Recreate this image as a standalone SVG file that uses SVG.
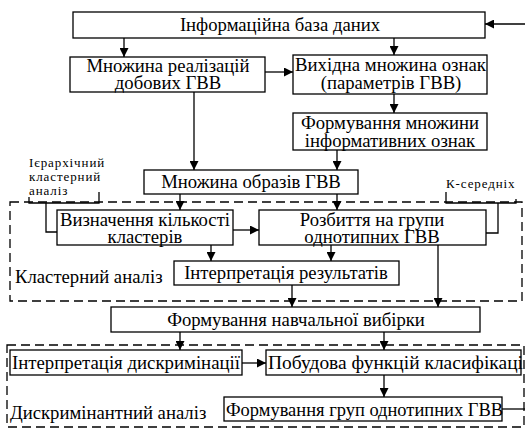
<svg xmlns="http://www.w3.org/2000/svg" width="525" height="429" viewBox="0 0 525 429">
<defs>
<style>
.b{fill:#fff;stroke:#000;stroke-width:1.3}
.d{fill:none;stroke:#000;stroke-width:1.3;stroke-dasharray:9,5}
.c{fill:none;stroke:#000;stroke-width:1.3}
.a{marker-end:url(#ah)}
.t{font-family:'Liberation Serif','Times New Roman',serif;font-size:18.7px;fill:#000}
.m{text-anchor:middle}
.s{font-family:'Liberation Serif','Times New Roman',serif;font-size:13px;letter-spacing:0.9px;fill:#000}
</style>
<marker id="ah" viewBox="0 0 10 10" refX="10" refY="5" markerWidth="9" markerHeight="9" markerUnits="userSpaceOnUse" orient="auto">
<path d="M0,0 L10,5 L0,10 z" fill="#000"/>
</marker>
</defs>
<rect width="525" height="429" fill="#fff"/>
<g id="cluster-area">
<rect class="d" x="10" y="202" width="512" height="99"/>
<text class="t" x="15" y="283">Кластерний аналіз</text>
</g>
<g id="discr-area">
<rect class="d" x="7" y="345" width="517" height="82"/>
<text class="t" x="10" y="419">Дискримінантний аналіз</text>
</g>
<g id="n1"><rect class="b" x="73" y="12" width="412" height="26"/><text class="t m" x="280" y="31">Інформаційна база даних</text></g>
<g id="n2"><rect class="b" x="70" y="57" width="195" height="35"/><text class="t m" x="168" y="72">Множина реалізацій</text><text class="t m" x="168" y="89">добових ГВВ</text></g>
<g id="n3"><rect class="b" x="293" y="55" width="194" height="39"/><text class="t" x="295" y="71" textLength="191" lengthAdjust="spacingAndGlyphs">Вихідна множина ознак</text><text class="t m" x="391" y="89">(параметрів ГВВ)</text></g>
<g id="n4"><rect class="b" x="293" y="113" width="194" height="37"/><text class="t m" x="390" y="129">Формування множини</text><text class="t m" x="390" y="147">інформативних ознак</text></g>
<g id="n5"><rect class="b" x="144" y="170" width="214" height="24"/><text class="t m" x="251" y="188">Множина образів ГВВ</text></g>
<g id="n6"><rect class="b" x="57" y="210" width="176" height="35"/><text class="t m" x="145" y="226">Визначення кількості</text><text class="t m" x="145" y="243">кластерів</text></g>
<g id="n7"><rect class="b" x="259" y="210" width="227" height="35"/><text class="t m" x="372" y="226">Розбиття на групи</text><text class="t m" x="372" y="243">однотипних ГВВ</text></g>
<g id="n8"><rect class="b" x="174" y="261" width="225" height="24"/><text class="t m" x="286" y="279">Інтерпретація результатів</text></g>
<g id="n9"><rect class="b" x="111" y="307" width="369" height="25"/><text class="t m" x="296" y="326">Формування навчальної вибірки</text></g>
<g id="n10"><rect class="b" x="10" y="350" width="232" height="25"/><text class="t" x="12" y="369" textLength="228" lengthAdjust="spacingAndGlyphs">Інтерпретація дискримінації</text></g>
<g id="n11"><rect class="b" x="266" y="350" width="255" height="25"/><text class="t" x="268" y="369" textLength="255" lengthAdjust="spacingAndGlyphs">Побудова функцій класифікаці</text></g>
<g id="n12"><rect class="b" x="224" y="397" width="278" height="24"/><text class="t" x="226" y="416" textLength="277" lengthAdjust="spacingAndGlyphs">Формування груп однотипних ГВВ</text></g>
<g id="lbl-h"><text class="s" x="29" y="167">Ієрархічний</text><text class="s" x="29" y="181">кластерний</text><text class="s" x="29" y="195">аналіз</text></g>
<g id="lbl-k"><text class="s" x="446" y="188">К-середніх</text></g>
<g id="connectors">
<path class="c a" d="M525,24 H485"/>
<path class="c a" d="M124,38 V57"/>
<path class="c a" d="M394,38 V55"/>
<path class="c a" d="M265,72 H293"/>
<path class="c a" d="M394,94 V113"/>
<path class="c a" d="M194,92 V170"/>
<path class="c a" d="M337,150 V170"/>
<path class="c a" d="M180,194 V210"/>
<path class="c a" d="M337,194 V210"/>
<path class="c a" d="M233,230 H259"/>
<path class="c a" d="M211,245 V261"/>
<path class="c a" d="M331,245 V261"/>
<path class="c a" d="M292,285 V307"/>
<path class="c a" d="M438,245 V307"/>
<path class="c a" d="M180,332 V350"/>
<path class="c a" d="M384,332 V350"/>
<path class="c a" d="M242,363 H266"/>
<path class="c a" d="M384,375 V397"/>
<path class="c" d="M502,409 H525"/>
<path class="c" d="M29,197 V203 H99 V192"/>
<path class="c" d="M46,203 V232 H57"/>
<path class="c" d="M446,192 V203 H516 V199"/>
<path class="c" d="M498,203 V233 H486"/>
</g>
</svg>
